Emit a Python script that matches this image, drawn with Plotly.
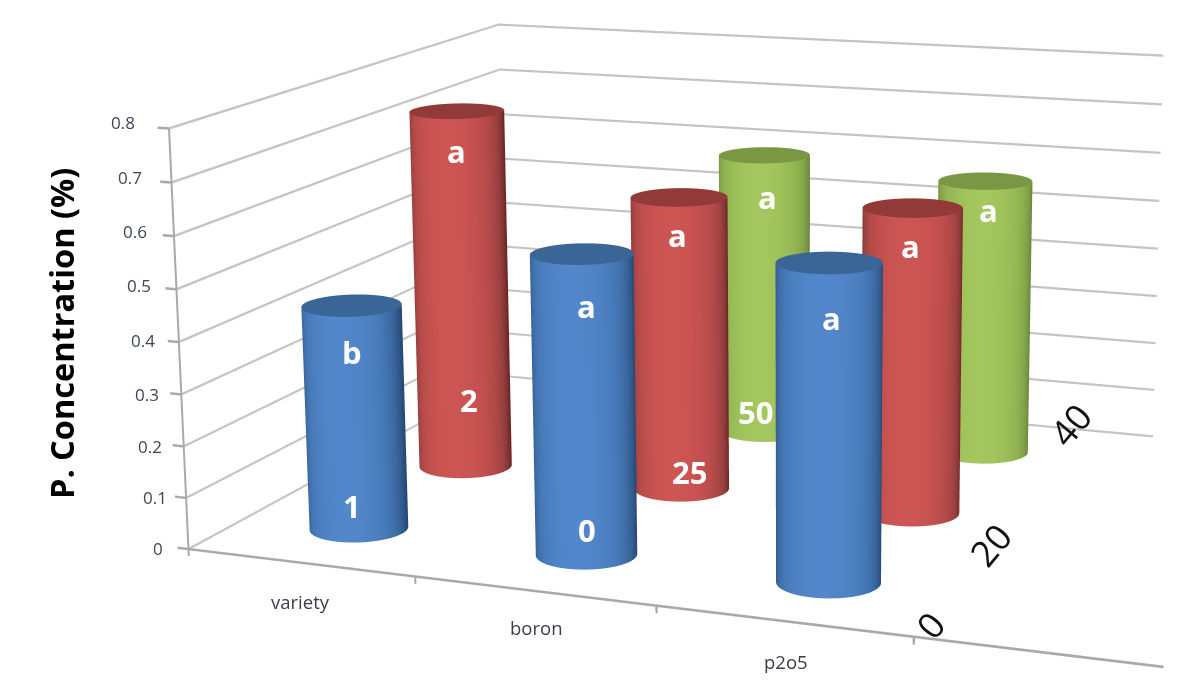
import numpy as np
import plotly.graph_objects as go

# ---- data ----
categories = ["variety", "boron", "p2o5"]
depth_labels = ["0", "20", "40"]
blue_vals = [0.437, 0.57, 0.588]
red_vals = [0.732, 0.588, 0.598]
green_vals = [None, 0.59, 0.565]
z_ticks = [0, 0.1, 0.2, 0.3, 0.4, 0.5, 0.6, 0.7, 0.8]
z_tick_labels = ["0", "0.1", "0.2", "0.3", "0.4", "0.5", "0.6", "0.7", "0.8"]
y_title = "P. Concentration (%)"

# ---- styles ----
W, H = 1197, 696
X_MAX, Y_MAX, Z_MAX = 4.0, 3.0, 0.8
UNIT = dict(x=1.5 / X_MAX, y=1.114 / Y_MAX, z=0.631 / Z_MAX)   # scene size of one axis unit
PAD_XY, PAD_Z = 0.1, 0.05                                      # margin so rules at the ends are not clipped
EYE = dict(x=1.6627, y=-4.5459, z=1.1041)
CENTER = dict(x=-0.0725, y=-0.5793, z=0.0526)
UP = dict(x=-0.0125, y=0.0653, z=1.0)
FOCAL = 3258.0
FRONT_END = 3.91
BACK_END = 3.13
RADIUS = 0.0743
HALF_Z = 0.0024   # half thickness of a horizontal rule, in axis units
HALF_X = 0.0045   # half thickness of an upright rule, in axis units
palette = {
    "blue": ("#274a75", "#38649a", "#4678b6", "#5287cb", "#3a6597"),
    "red": ("#6e2725", "#974040", "#b64b49", "#cd5553", "#913a38"),
    "green": ("#64803a", "#7f9f48", "#93b552", "#a4c65e", "#7a9844"),
}
GRID = "#c4c4c4"
AXIS = "#a9a9a9"

fig = go.Figure()
flat = dict(ambient=1, diffuse=0, specular=0, roughness=1, fresnel=0)
theta = np.linspace(0, 2 * np.pi, 121)
view = np.arctan2(EYE["y"], EYE["x"])
rx = RADIUS / UNIT["x"]
ry = RADIUS / UNIT["y"]


def cylinder(cx, cy, h, name):
    edge, dark, mid, bright, cap = palette[name]
    xs = cx + rx * np.cos(theta)
    ys = cy + ry * np.sin(theta)
    shade = np.clip(np.cos(theta - view + 0.12), 0, 1)
    fig.add_trace(go.Surface(
        x=np.vstack([xs, xs]), y=np.vstack([ys, ys]),
        z=np.vstack([np.zeros_like(xs), np.full_like(xs, h)]),
        surfacecolor=np.vstack([shade, shade]), cmin=0, cmax=1,
        colorscale=[[0, edge], [0.35, dark], [0.65, mid], [1, bright]],
        showscale=False, lighting=flat, hoverinfo="skip"))
    rr = np.array([0.0, 1.0])
    fig.add_trace(go.Surface(
        x=cx + rx * np.outer(rr, np.cos(theta)), y=cy + ry * np.outer(rr, np.sin(theta)),
        z=np.full((2, theta.size), h), surfacecolor=np.zeros((2, theta.size)),
        cmin=0, cmax=1, colorscale=[[0, cap], [1, cap]],
        showscale=False, lighting=flat, hoverinfo="skip"))


for row, (name, vals) in enumerate([("blue", blue_vals), ("red", red_vals), ("green", green_vals)]):
    for col, v in enumerate(vals):
        if v is not None:
            cylinder(col + 0.5, row + 0.5, v, name)


def rules(quads, color):
    """One flat mesh of thin quads, used for the axis rules and wall grid."""
    vs = np.array(quads, float).reshape(-1, 3)
    n = len(quads)
    i = np.r_[np.arange(n) * 4, np.arange(n) * 4]
    j = np.r_[np.arange(n) * 4 + 1, np.arange(n) * 4 + 2]
    k = np.r_[np.arange(n) * 4 + 2, np.arange(n) * 4 + 3]
    fig.add_trace(go.Mesh3d(x=vs[:, 0], y=vs[:, 1], z=vs[:, 2], i=i, j=j, k=k, color=color,
                            flatshading=True, lighting=flat, hoverinfo="skip", showscale=False))


grid = []
for z in z_ticks:
    grid.append([[0, 0, z - HALF_Z], [0, Y_MAX, z - HALF_Z], [0, Y_MAX, z + HALF_Z], [0, 0, z + HALF_Z]])
    grid.append([[0, Y_MAX, z - HALF_Z], [BACK_END, Y_MAX, z - HALF_Z], [BACK_END, Y_MAX, z + HALF_Z], [0, Y_MAX, z + HALF_Z]])
rules(grid, GRID)

axis = [
    [[-HALF_X, 0, 0], [HALF_X, 0, 0], [HALF_X, 0, Z_MAX], [-HALF_X, 0, Z_MAX]],
    [[0, 0, -HALF_Z], [FRONT_END, 0, -HALF_Z], [FRONT_END, 0, HALF_Z], [0, 0, HALF_Z]],
]
for z in z_ticks:
    axis.append([[-0.05, 0, z - HALF_Z], [0, 0, z - HALF_Z], [0, 0, z + HALF_Z], [-0.05, 0, z + HALF_Z]])
for i_tick in range(0, 4):
    axis.append([[i_tick - HALF_X, 0, -0.014], [i_tick + HALF_X, 0, -0.014], [i_tick + HALF_X, 0, 0], [i_tick - HALF_X, 0, 0]])
rules(axis, AXIS)


# ---- text ----
def note(px, py, text, size, color="white", bold=False, angle=0, family="Open Sans"):
    return dict(xref="paper", yref="paper", x=px / W, y=1 - py / H, text=("<b>%s</b>" % text) if bold else text,
                showarrow=False, xanchor="center", yanchor="middle", textangle=angle,
                font=dict(size=size, color=color, family=family))


bar_text = ["a", "b", "2", "1", "a", "0", "a", "25", "a", "50", "a", "a", "a"]
bar_text_x = [456, 352, 469, 352, 586, 587, 677, 689, 767, 755, 831, 910, 988]
bar_text_y = [151, 352, 400, 506, 306, 530, 235, 472, 197, 412, 318, 246, 210]
notes = [note(x, y, t, 31, bold=True) for t, x, y in zip(bar_text, bar_text_x, bar_text_y)]
notes += [note(x, y, t, 18.5, color="#3c3c4a") for t, x, y in zip(categories, [300, 536, 786], [601, 627, 661])]
notes += [note(x, y, t, 17, color="#3c4658") for t, x, y in zip(z_tick_labels, [158, 155, 150, 147, 143, 139, 135, 130, 123],
                                                               [548, 497, 446, 394, 340, 285, 232, 177, 122])]
notes += [note(x, y, t, 36, color="#111111", angle=-50) for t, x, y in zip(depth_labels, [930, 990, 1070], [625, 545, 425])]
notes.append(note(62, 334, y_title, 32.5, color="black", bold=True, angle=-90))

hidden = dict(visible=False, showgrid=False, zeroline=False, showbackground=False, showspikes=False, autorange=False)
fig.update_layout(
    width=W, height=H, margin=dict(l=0, r=0, t=0, b=0), paper_bgcolor="white", showlegend=False,
    annotations=notes,
    scene=dict(
        domain=dict(x=[0, 1], y=[0, 1]), bgcolor="white", aspectmode="manual",
        aspectratio=dict(x=UNIT["x"] * (X_MAX + 2 * PAD_XY), y=UNIT["y"] * (Y_MAX + 2 * PAD_XY), z=UNIT["z"] * (Z_MAX + 2 * PAD_Z)),
        camera=dict(eye=EYE, center=CENTER, up=UP, projection=dict(type="perspective")),
        xaxis=dict(range=[-PAD_XY, X_MAX + PAD_XY], **hidden),
        yaxis=dict(range=[-PAD_XY, Y_MAX + PAD_XY], **hidden),
        zaxis=dict(range=[-PAD_Z, Z_MAX + PAD_Z], **hidden),
        dragmode=False,
    ),
)
fovy = 2 * np.arctan((H / 2) / FOCAL)
post = """
document.body.style.margin='0';document.body.style.overflow='hidden';
var gd=document.getElementById('chart');
var gp=gd._fullLayout.scene._scene.glplot;
gp.fovy=%f; gp.redraw();
""" % fovy
fig.write_html("out.html", div_id="chart", post_script=post, config=dict(displayModeBar=False))
